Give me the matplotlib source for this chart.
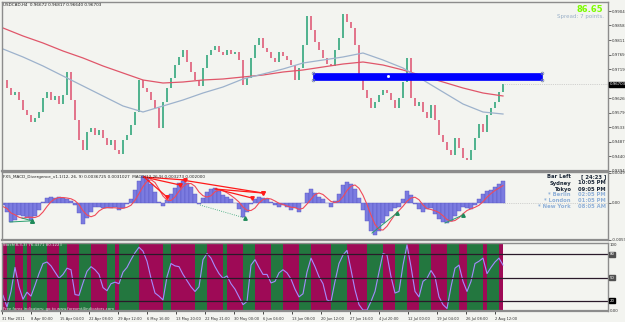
import matplotlib
matplotlib.use("Agg")
import matplotlib.pyplot as plt
import numpy as np
from matplotlib.patches import Rectangle

plt.rcParams["font.family"] = ["DejaVu Sans"]

# H4 bars sampled every 4 bars (31 Mar 2011 .. 2 Aug 2011)
bars = np.arange(0, 504, 4)
close = [
    0.96840, 0.96585, 0.96361, 0.96457, 0.96202, 0.95883, 0.95723, 0.95500, 0.95628, 0.95819,
    0.96266, 0.96457, 0.96202, 0.96330, 0.96074, 0.96361, 0.97095, 0.96202, 0.95564, 0.94926,
    0.94607, 0.95181, 0.95309, 0.95085, 0.95245, 0.94990, 0.94766, 0.94926, 0.94607, 0.94479,
    0.94926, 0.95085, 0.95404, 0.95819, 0.96840, 0.96585, 0.96457, 0.96202, 0.95947, 0.95309,
    0.96138, 0.96585, 0.96904, 0.97318, 0.97574, 0.97797, 0.97414, 0.97095, 0.96840, 0.96649,
    0.97223, 0.97637, 0.97797, 0.97925, 0.97733, 0.97637, 0.97797, 0.97669, 0.97733, 0.97478,
    0.96680, 0.96904, 0.97542, 0.97956, 0.98180, 0.97861, 0.97733, 0.97542, 0.97414, 0.97733,
    0.97606, 0.97478, 0.97318, 0.96840, 0.97223, 0.97956, 0.98882, 0.98435, 0.98052, 0.97797,
    0.97542, 0.97350, 0.97287, 0.97797, 0.98180, 0.98945, 0.98690, 0.98499, 0.97956, 0.96999,
    0.96521, 0.96266, 0.95947, 0.96138, 0.96361, 0.96521, 0.96425, 0.96202, 0.95947, 0.96266,
    0.96776, 0.97542, 0.96266, 0.96011, 0.96138, 0.95819, 0.95628, 0.96042, 0.95564, 0.95085,
    0.94862, 0.94607, 0.94447, 0.94990, 0.94671, 0.94352, 0.94288, 0.94607, 0.94990, 0.95436,
    0.95181, 0.95723, 0.95947, 0.96138, 0.96457, 0.96703,
]

# moving averages, every 20 bars
ma_bars = np.arange(0, 520, 20)
ma_slow = [
    0.98499, 0.98244, 0.98020, 0.97765, 0.97542, 0.97287, 0.97063, 0.96840, 0.96744, 0.96776,
    0.96840, 0.96872, 0.96936, 0.96999, 0.97095, 0.97159, 0.97255, 0.97350, 0.97414, 0.97318,
    0.97159, 0.96968, 0.96776, 0.96585, 0.96425, 0.96330,
]
ma_fast = [
    0.97829, 0.97574, 0.97287, 0.96968, 0.96649, 0.96330, 0.96011, 0.95819, 0.96011, 0.96202,
    0.96425, 0.96617, 0.96872, 0.97031, 0.97191, 0.97382, 0.97478, 0.97574, 0.97701, 0.97478,
    0.97223, 0.96840, 0.96457, 0.96074, 0.95819, 0.95755,
]

# MACD histogram and signal (x 1e-5)
macd_hist = [
    -34, -147, -309, -277, -196, -212, -244, -277, -212, -115,
    15, 79, 95, 79, 95, 79, 63, 31, -34, -163,
    -341, -244, -147, -66, -66, -83, -83, -83, -66, -115,
    -83, -18, 63, 209, 354, 435, 403, 306, 176, 15,
    -50, 47, 144, 241, 322, 354, 322, 257, 144, -18,
    79, 176, 225, 241, 193, 128, 95, 63, -2, -99,
    -228, -147, -18, 63, 95, 79, 63, 15, -34, -66,
    -34, -66, -115, -83, -147, -2, 160, 225, 160, 95,
    63, -2, -66, 31, 144, 290, 338, 306, 225, 79,
    -115, -293, -455, -519, -455, -325, -212, -131, -83, -66,
    63, 193, 128, -18, -99, -147, -99, -83, -180, -260,
    -309, -325, -293, -212, -131, -66, -83, -99, -34, 63,
    144, 193, 209, 257, 306, 354,
]
macd_signal = [
    -60, -90, -163, -192, -232, -249, -232, -232, -236, -212,
    -147, -58, 19, 67, 87, 87, 79, 67, 35, -26,
    -127, -196, -224, -200, -131, -91, -75, -79, -79, -87,
    -87, -71, -38, 43, 152, 265, 350, 375, 330, 225,
    112, 47, 39, 96, 189, 265, 310, 314, 269, 176,
    116, 95, 116, 180, 209, 197, 164, 120, 71, 14,
    -67, -119, -123, -83, -2, 55, 75, 63, 31, -6,
    -25, -50, -70, -75, -103, -87, -18, 59, 136, 160,
    136, 79, 23, 7, 27, 100, 201, 270, 290, 237,
    124, -26, -196, -346, -430, -439, -378, -281, -188, -123,
    -54, 27, 80, 92, 51, -34, -91, -107, -127, -156,
    -208, -269, -297, -285, -240, -176, -123, -95, -71, -38,
    19, 92, 152, 201, 241, 280,
]

# divergence lines drawn by the indicator: (bar, value x1e-5) pairs
bear_lines = [
    ((141, 419), (177, 290)), ((141, 419), (164, 95)), ((141, 419), (182, 371)),
    ((179, 371), (260, 160)), ((212, 225), (260, 160)), ((213, 225), (249, 79)),
]
bull_lines = [((7, -309), (29, -290)), ((19, -245), (29, -290)), ((369, -488), (394, -163)),
              ((442, -325), (460, -196))]
bull_dotted = [((197, -34), (242, -245))]

stoch = [
    27, 12, 32, 63, 38, 22, 31, 26, 40, 55, 68, 70, 65, 57, 49, 54, 62, 60, 28, 27,
    43, 58, 64, 60, 54, 37, 33, 42, 44, 42, 57, 63, 73, 82, 89, 84, 71, 49, 30, 26,
    21, 51, 68, 65, 64, 54, 46, 38, 32, 38, 73, 81, 75, 64, 55, 49, 52, 42, 35, 25,
    15, 19, 66, 73, 63, 54, 54, 43, 45, 56, 60, 56, 48, 35, 25, 29, 57, 75, 64, 51,
    42, 21, 19, 45, 68, 79, 85, 60, 34, 15, 8, 8, 19, 32, 57, 81, 79, 51, 30, 32,
    66, 92, 64, 32, 25, 45, 49, 59, 51, 25, 15, 10, 38, 62, 66, 45, 32, 45, 68, 71,
    75, 55, 63, 70, 75, 66,
]
stoch_levels = [80, 50, 20]

# resistance zone drawn on the price chart
zone_start, zone_end = 310, 539
zone_low, zone_high = 0.96840, 0.97063

price_ticks = [0.99040, 0.98580, 0.98110, 0.97650, 0.97190, 0.96260, 0.95790,
               0.95330, 0.94870, 0.94400, 0.93940]
date_labels = ["31 Mar 2011", "8 Apr 00:00", "15 Apr 04:00", "22 Apr 08:00", "29 Apr 12:00",
               "6 May 16:00", "13 May 20:00", "22 May 21:00", "30 May 00:00", "6 Jun 04:00",
               "13 Jun 08:00", "20 Jun 12:00", "27 Jun 16:00", "4 Jul 20:00", "12 Jul 00:00",
               "19 Jul 04:00", "26 Jul 08:00", "2 Aug 12:00"]

W, H = 625, 322
BG = "#f3f4f0"
EDGE = "#8c8c8c"
SMALL = 2.8


def fx(x, y):
    return x / W, 1 - y / H


fig = plt.figure(figsize=(W / 100, H / 100), dpi=100, facecolor=BG)
ax1 = fig.add_axes([2 / W, 1 - 171 / H, 606 / W, 169 / H])
ax2 = fig.add_axes([2 / W, 1 - 240 / H, 606 / W, 68 / H])
ax3 = fig.add_axes([2 / W, 1 - 311 / H, 606 / W, 68 / H])

xmax = 605
for ax in (ax1, ax2, ax3):
    ax.set_facecolor(BG)
    ax.set_xlim(-1, xmax)
    ax.yaxis.tick_right()
    ax.tick_params(axis="y", labelsize=SMALL, length=2, width=0.5, pad=1, colors="#303030")
    ax.tick_params(axis="x", length=0)
    for s in ax.spines.values():
        s.set_color(EDGE)
        s.set_linewidth(1.0)
    ax.spines["bottom"].set_linewidth(1.6)
    ax.set_xticks([])

# ---- price panel
close = np.array(close)
opens = close[:-1]
closes = close[1:]
up = closes >= opens
ax1.bar(bars[1:], closes - opens, bottom=opens, width=2.2,
        color=np.where(up, "#52b38f", "#e2758c"), linewidth=0)
ax1.plot(ma_bars, ma_slow, color="#e0566a", lw=0.9)
ax1.plot(ma_bars, ma_fast, color="#9db2cc", lw=0.9)
ax1.add_patch(Rectangle((zone_start, zone_low), zone_end - zone_start, zone_high - zone_low,
                        facecolor="#0000ff", edgecolor="#0000ff", lw=0.5, zorder=4))
for cx, cy in [(zone_start, zone_low), (zone_start, zone_high), (zone_end, zone_low), (zone_end, zone_high)]:
    ax1.plot(cx, cy, "o", ms=2, mfc="none", mec="#7080a0", mew=0.5, zorder=5)
ax1.plot((zone_start + zone_end) / 2 - 40, (zone_low + zone_high) / 2, "s", ms=1, color="white", zorder=5)
ax1.hlines(close[-1], bars[-1], xmax, colors="#b0b0b0", linestyles=":", lw=0.5)
ax1.set_ylim(0.93937, 0.99328)
ax1.set_yticks(price_ticks)
ax1.set_yticklabels([f"{v:.5f}" for v in price_ticks])
ax1.text(1.003, (close[-1] - 0.93937) / (0.99328 - 0.93937), f"{close[-1]:.5f}",
         transform=ax1.transAxes, fontsize=SMALL, color="white", va="center", ha="left",
         bbox=dict(boxstyle="square,pad=0.15", fc="black", ec="black"), clip_on=False)

fig.text(*fx(3, 5), "USDCAD,H4  0.96672 0.96817 0.96640 0.96703", fontsize=3.0,
         color="#202020", va="center")
fig.text(*fx(603, 10), "86.65", fontsize=6, color="#7cfc00", ha="right", va="center",
         fontweight="bold")
fig.text(*fx(604, 16.5), "Spread: 7 points.", fontsize=4, color="#9ab0c8", ha="right", va="center")

# ---- MACD panel
hist = np.array(macd_hist) * 1e-5
sig = np.array(macd_signal) * 1e-5
ax2.bar(bars, hist, width=4, color="#7b7be0", edgecolor="#5555c4", linewidth=0.3)
ax2.plot(bars, sig, color="#f04a5a", lw=0.8)
for (a, b) in bear_lines:
    ax2.plot([a[0], b[0]], [a[1] * 1e-5, b[1] * 1e-5], color="#ff1a1a", lw=0.9)
    ax2.plot(b[0], b[1] * 1e-5, marker="v", ms=2.5, color="#ff1a1a")
for (a, b) in bull_lines:
    ax2.plot([a[0], b[0]], [a[1] * 1e-5, b[1] * 1e-5], color="#2aa070", lw=0.7)
    ax2.plot(b[0], b[1] * 1e-5, marker="^", ms=2.5, color="#1f8a5a")
for (a, b) in bull_dotted:
    ax2.plot([a[0], b[0]], [a[1] * 1e-5, b[1] * 1e-5], color="#2aa070", lw=0.6, ls=":")
    ax2.plot(b[0], b[1] * 1e-5, marker="^", ms=2.5, color="#1f8a5a")
ax2.hlines(0, bars[-1], xmax, colors="#b0b0b0", linestyles=":", lw=0.5)
ax2.set_ylim(-0.0060, 0.0050)
ax2.set_yticks([0.00491, 0.0, -0.00597])
ax2.set_yticklabels(["0.00491", "0.00", "-0.00597"])
fig.text(*fx(3, 177), "FX5_MACD_Divergence_v1.1(12, 26, 9) 0.0036725 0.0031027  MACD(12,26,9) 0.003273 0.002000",
         fontsize=3.0, color="#202020", va="center")

clock = [("Bar Left", "[ 24:23 ]", "#1c2838"), ("Sydney", "10:05 PM", "#1c2838"),
         ("Tokyo", "09:05 PM", "#1c2838"), ("* Berlin", "02:05 PM", "#8fb0d8"),
         ("* London", "01:05 PM", "#8fb0d8"), ("* New York", "08:05 AM", "#8fb0d8")]
for i, (name, t, col) in enumerate(clock):
    y = 177 + 6 * i
    fig.text(*fx(571, y), name, fontsize=3.8, color=col, ha="right", va="center", fontweight="bold")
    fig.text(*fx(606, y), t, fontsize=3.8, color=col, ha="right", va="center", fontweight="bold")

# ---- stochastic panel
lo, hi = 6.8, 94.5
st = np.array(stoch)
rising = st[1:] > st[:-1]
ax3.bar(bars[:-1] + 2, hi - lo, bottom=lo, width=4, linewidth=0,
        color=np.where(rising, "#23773f", "#9e0a56"))
ax3.plot(bars, st, color="#a58bff", lw=0.8)
for lv in stoch_levels:
    ax3.axhline(lv, color="#2a1a2a", lw=0.9)
ax3.set_ylim(lo, hi)
ax3.set_yticks([])
for lv, fc in zip(stoch_levels, ["#505050", "#505050", "#000000"]):
    ax3.text(1.003, (lv - lo) / (hi - lo), str(lv), transform=ax3.transAxes, fontsize=SMALL,
             color="white", va="center", ha="left",
             bbox=dict(boxstyle="square,pad=0.15", fc=fc, ec=fc), clip_on=False)
fig.text(*fx(610, 245), "100", fontsize=SMALL, color="#303030", va="center")
fig.text(*fx(610, 311), "0.00", fontsize=SMALL, color="#303030", va="center")
fig.text(*fx(3, 245.5), "Stoch(8,3,3) 76.4371 80.1223", fontsize=2.8, color="#e0e0e0", va="center")
fig.text(*fx(3, 309), "Free forex indicators: go to www.forexmt4indicators.com", fontsize=2.8,
         color="#e0e0e0", va="center")

ticks = 29 * np.arange(len(date_labels)) - 1
ax3.set_xticks(ticks)
ax3.set_xticklabels(date_labels, fontsize=2.6, ha="left", color="#303030")
ax3.tick_params(axis="x", length=2.5, width=0.5, pad=1.5, direction="out")

fig.savefig("out.png", dpi=100, facecolor=BG)
